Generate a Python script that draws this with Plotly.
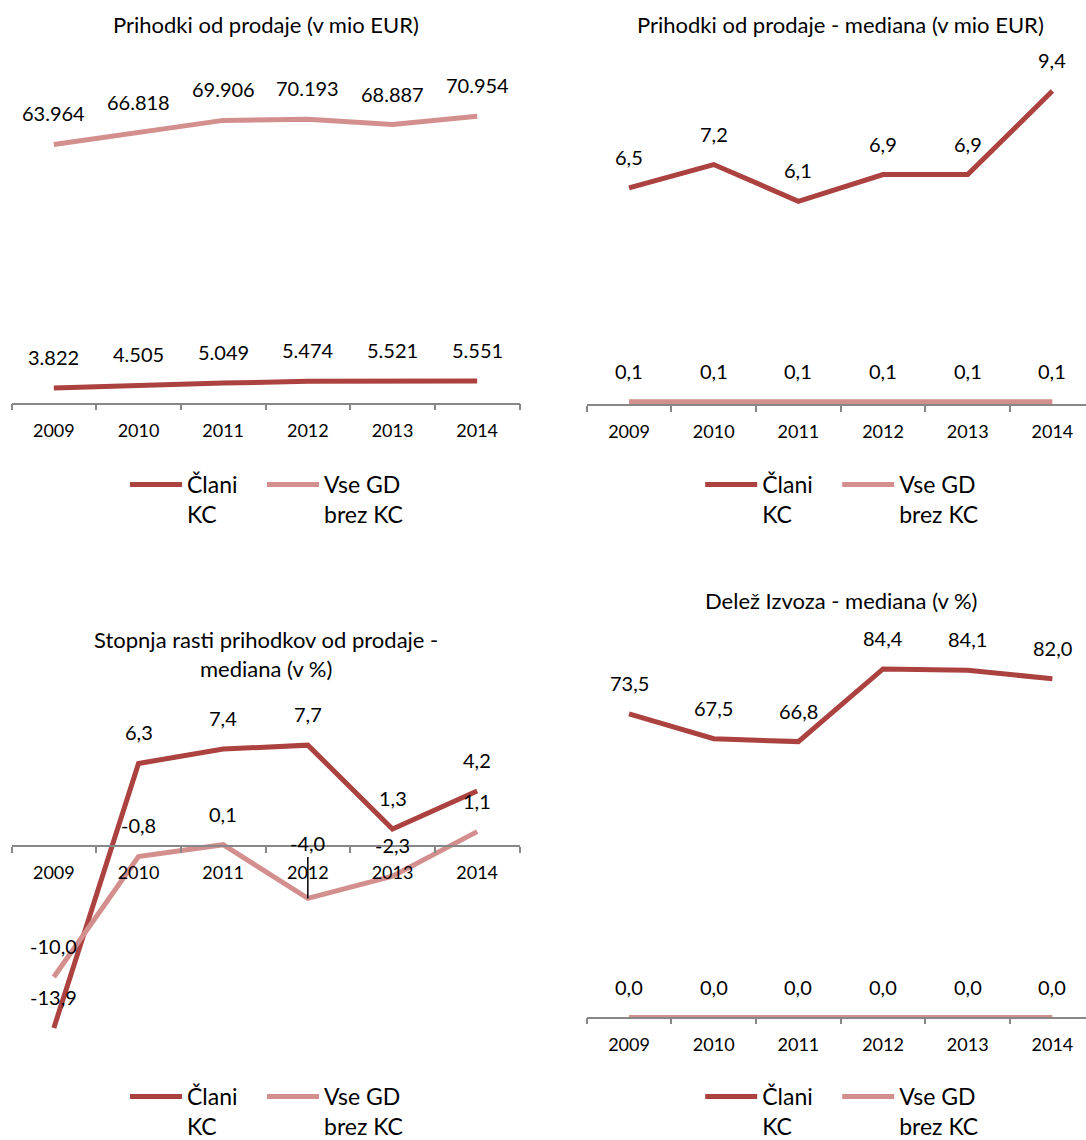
import plotly.graph_objects as go

# ---------------- data ----------------
years = ["2009", "2010", "2011", "2012", "2013", "2014"]

names = ["Člani<br>KC", "Vse GD<br>brez KC"]

# Chart 1: Prihodki od prodaje (v mio EUR)
prih_clani = [3822, 4505, 5049, 5474, 5521, 5551]
prih_vse = [63964, 66818, 69906, 70193, 68887, 70954]

# Chart 2: Prihodki od prodaje - mediana (v mio EUR)
med_clani = [6.5, 7.2, 6.1, 6.9, 6.9, 9.4]
med_vse = [0.1, 0.1, 0.1, 0.1, 0.1, 0.1]

# Chart 3: Stopnja rasti prihodkov od prodaje - mediana (v %)
rast_clani = [-13.9, 6.3, 7.4, 7.7, 1.3, 4.2]
rast_vse = [-10.0, -0.8, 0.1, -4.0, -2.3, 1.1]

# Chart 4: Delež Izvoza - mediana (v %)
izvoz_clani = [73.5, 67.5, 66.8, 84.4, 84.1, 82.0]
izvoz_vse = [0.0, 0.0, 0.0, 0.0, 0.0, 0.0]

titles = [
    "Prihodki od prodaje (v mio EUR)",
    "Prihodki od prodaje - mediana (v mio EUR)",
    "Stopnja rasti prihodkov od prodaje -<br>mediana (v %)",
    "Delež Izvoza - mediana (v %)",
]

# ---------------- styling / layout ----------------
W, H = 1086, 1140
DARK = "#AB423F"
LIGHT = "#D38F8D"
AXIS = "#878787"
FONT = "Lato"


def fx(p):
    return p / W


def fy(p):
    return 1 - p / H


def fmt_thousands(v):
    return f"{v:,.0f}".replace(",", ".")


def fmt_dec(v):
    return f"{v:.1f}".replace(".", ",")


# panel geometry in pixels: x0, x1, top, bottom, zero-line pixel, px per unit
panels = [
    dict(x0=11.5, x1=519.5, top=60, bottom=403.5, zero=403.5, k=0.00405,
         series=(prih_clani, prih_vse), fmt=fmt_thousands, title_y=25, legend_y=463),
    dict(x0=586.7, x1=1086, top=60, bottom=405, zero=405, k=33.4,
         series=(med_clani, med_vse), fmt=fmt_dec, title_y=25, legend_y=463),
    dict(x0=11.5, x1=519.5, top=690, bottom=1050, zero=846, k=13.1,
         series=(rast_clani, rast_vse), fmt=fmt_dec, title_y=654, legend_y=1075),
    dict(x0=586.7, x1=1086, top=640, bottom=1017.5, zero=1017.5, k=4.13,
         series=(izvoz_clani, izvoz_vse), fmt=fmt_dec, title_y=600, legend_y=1075),
]
CAT_W = (519.5 - 11.5) / 6
LEGEND_OFFSETS = (-134, 3)   # line start of each legend item relative to chart centre

fig = go.Figure()
annotations = []
layout = dict(
    width=W, height=H,
    margin=dict(l=0, r=0, t=0, b=0, autoexpand=False),
    paper_bgcolor="white", plot_bgcolor="rgba(0,0,0,0)",
    font=dict(family=FONT, color="black"),
    showlegend=True,
)

for i, p in enumerate(panels):
    n = "" if i == 0 else str(i + 1)
    xa, ya = "x" + n, "y" + n
    cx = (p["x0"] + (p["x0"] + 6 * CAT_W)) / 2
    for j, (vals, col) in enumerate(zip(p["series"], (DARK, LIGHT))):
        li = 2 * i + j + 1
        leg = "legend" if li == 1 else f"legend{li}"
        fig.add_trace(go.Scatter(
            x=years, y=vals, mode="lines", name=names[j],
            line=dict(color=col, width=5), xaxis=xa, yaxis=ya,
            legend=leg, cliponaxis=False, hoverinfo="skip",
        ))
        layout[leg] = dict(
            orientation="v", x=fx(cx + LEGEND_OFFSETS[j] - 6.5), xanchor="left",
            y=fy(p["legend_y"]), yanchor="top",
            font=dict(size=23, family=FONT, color="black"),
            valign="top", itemwidth=52,
            bgcolor="rgba(0,0,0,0)",
        )
        for idx, v in enumerate(vals):
            lbl = p["fmt"](v)
            if i == 2 and j == 1 and years[idx] == "2012":
                annotations.append(dict(
                    x=idx, y=v, xref=xa, yref=ya, text=lbl, showarrow=True,
                    arrowhead=0, arrowwidth=1.5, arrowcolor="black",
                    ax=0, ay=-55, font=dict(size=20, color="black")))
            else:
                annotations.append(dict(
                    x=idx, y=v, xref=xa, yref=ya, text=lbl, showarrow=False,
                    yshift=31, font=dict(size=20, color="black")))

    xr_end = -0.5 + (p["x1"] - p["x0"]) / CAT_W
    layout["xaxis" + n] = dict(
        domain=[fx(p["x0"]), fx(p["x1"])], type="category",
        categoryorder="array", categoryarray=years,
        range=[-0.5, xr_end], anchor="free", position=fy(p["zero"]),
        showline=True, linecolor=AXIS, linewidth=1.5,
        ticks="outside", tickson="boundaries", ticklen=6, tickcolor=AXIS,
        tickwidth=1.5, showgrid=False, zeroline=False,
        tickfont=dict(size=18, family=FONT, color="black"),
        ticklabelstandoff=11, fixedrange=True,
    )
    layout["yaxis" + n] = dict(
        domain=[fy(p["bottom"]), fy(p["top"])],
        range=[(p["zero"] - p["bottom"]) / p["k"], (p["zero"] - p["top"]) / p["k"]],
        visible=False, showgrid=False, zeroline=False, fixedrange=True,
        anchor=xa,
    )
    annotations.append(dict(
        x=fx(cx), y=fy(p["title_y"]), xref="paper", yref="paper",
        text=titles[i], showarrow=False, xanchor="center", yanchor="middle",
        font=dict(size=22, family=FONT, color="black")))

layout["annotations"] = annotations
fig.update_layout(**layout)

fig.write_html("out.html", config={"displayModeBar": False},
               post_script="document.body.style.margin='0';")
